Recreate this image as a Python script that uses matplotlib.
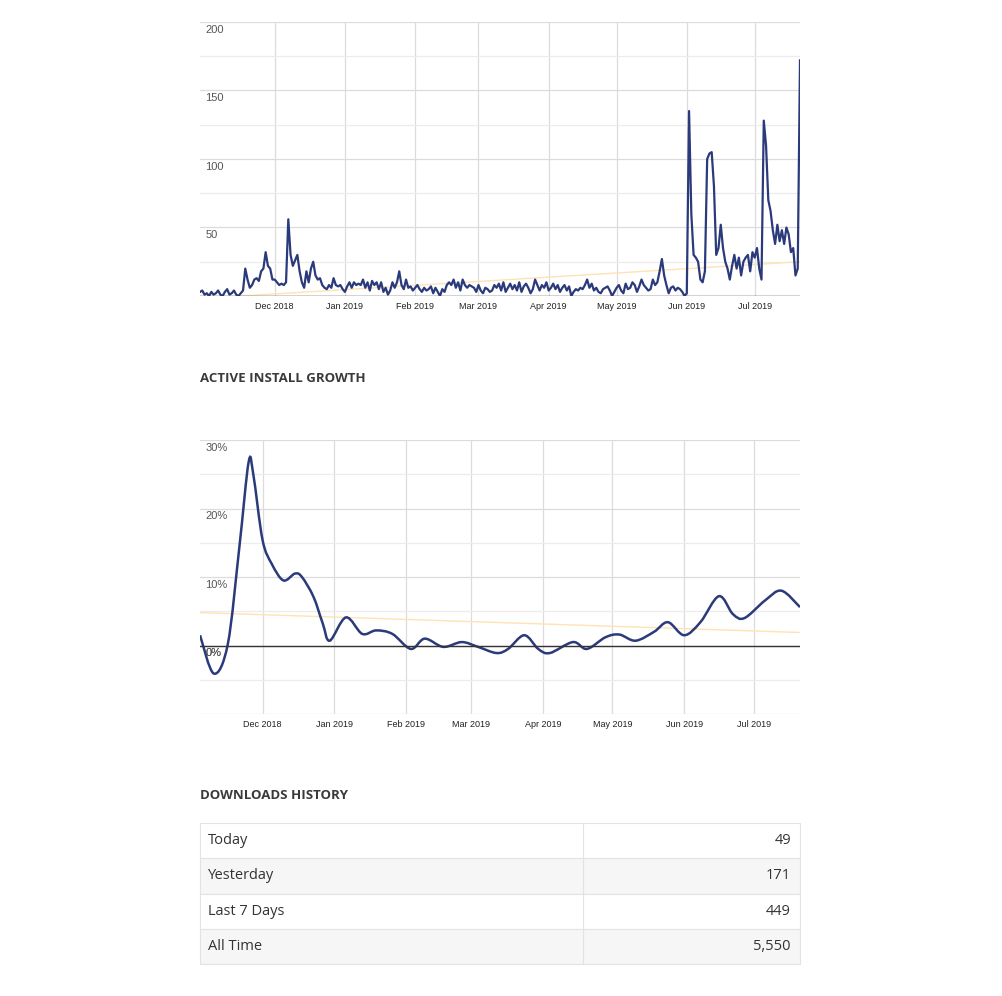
import datetime as dt
import numpy as np
import matplotlib
matplotlib.use("Agg")
import matplotlib.pyplot as plt
import matplotlib.dates as mdates
from matplotlib.path import Path
from matplotlib.patches import PathPatch, Rectangle

# ---------------- data ----------------
dl_start = dt.date(2018, 10, 29)
daily_downloads = [
    3,4,1,2,0,3,1,2,4,1,
    0,3,5,1,2,4,1,0,2,4,
    20,12,6,8,12,13,11,18,20,32,
    22,20,12,12,10,8,9,8,10,56,
    30,22,26,30,18,10,6,18,10,20,
    25,15,12,13,8,6,5,8,6,13,
    8,7,8,5,3,7,10,6,10,8,
    9,8,12,6,10,4,11,8,10,5,
    10,3,6,1,4,10,6,10,18,8,
    5,12,6,7,4,6,8,5,3,6,
    4,5,7,2,6,3,0,5,3,8,
    10,8,12,6,10,4,12,8,6,8,
    7,6,3,8,4,2,6,5,3,4,
    8,6,9,4,10,3,6,9,5,8,
    4,10,3,7,9,6,2,5,12,8,
    4,8,6,10,4,6,9,5,8,3,
    6,8,4,7,0,3,5,4,6,5,
    8,12,6,9,4,6,3,2,5,6,
    7,4,0,3,6,8,4,2,9,5,
    6,10,8,3,7,12,8,6,4,5,
    12,8,10,18,27,15,8,2,6,7,
    4,6,5,3,0,2,135,60,30,28,
    25,12,10,18,100,104,105,80,30,35,
    52,35,25,20,12,22,30,20,28,15,
    25,28,30,18,32,28,35,20,12,128,
    110,70,62,48,38,52,40,48,38,50,
    45,32,35,15,20,172,
]
dl_trend_days = [18, 265]
dl_trend_vals = [0, 25]

growth_days = [6, 12.8, 18.7, 23, 27, 29.6, 33.5, 37, 42, 47, 50.7, 55.7, 59, 62.5,
               69, 76, 82.7, 89, 97, 103.7, 111, 119, 126, 134, 139, 146, 152, 157.6,
               167, 173.6, 181, 187, 194.6, 202, 208, 215.6, 222, 230, 236.7, 241.8,
               250, 257, 265]
growth_pct = [1.5, -4.1, 0.2, 14.4, 26.8, 25, 15.4, 11.9, 9.5, 10.5, 10, 7.1, 3.2, 0.7,
              4.1, 1.7, 2.2, 1.7, -0.5, 1, -0.2, 0.5, -0.2, -1.1, -0.5, 1.5, -0.5, -1.1,
              0.5, -0.5, 1.2, 1.6, 0.7, 2, 3.4, 1.5, 3.4, 7.2, 4.6, 4,
              6.6, 8, 5.6]
growth_trend_days = [6, 265]
growth_trend_vals = [4.8, 1.9]

history_labels = ["Today", "Yesterday", "Last 7 Days", "All Time"]
history_values = ["49", "171", "449", "5,550"]

# ---------------- style ----------------
LINE = "#2b3a7a"
TREND = "#fde3b5"
GRID = "#dcdcdc"
W, H = 1002, 996
fig = plt.figure(figsize=(W/100, H/100), dpi=100)

def d(n):
    return mdates.date2num(dl_start + dt.timedelta(days=float(n)))

def setup(ax, ymin, ymax, ystep, fmt, xlim):
    ax.set_xlim(*xlim)
    ax.set_ylim(ymin, ymax)
    for s in ax.spines.values():
        s.set_visible(False)
    months = [dt.date(2018, 12, 1), dt.date(2019, 1, 1), dt.date(2019, 2, 1), dt.date(2019, 3, 1),
              dt.date(2019, 4, 1), dt.date(2019, 5, 1), dt.date(2019, 6, 1), dt.date(2019, 7, 1)]
    mn = [mdates.date2num(m) for m in months]
    ax.set_xticks(mn)
    ax.set_xticklabels([m.strftime("%b %Y") for m in months], fontsize=6.5,
                       family="Liberation Sans", color="#222")
    ax.tick_params(axis="x", length=0, pad=4)
    ax.set_yticks([])
    for m in mn:
        ax.axvline(m, color=GRID, lw=0.9, zorder=0)
    for v in np.arange(ymin, ymax + 0.01, ystep / 2):
        ax.axhline(v, color="#ececec" if (v % ystep) else GRID, lw=0.9, zorder=0)
    for v in np.arange(ymin, ymax + 0.01, ystep):
        if v <= ymin and ymin == 0:
            continue
        if v < 0:
            continue
        ax.annotate(fmt(v), (0, v), xycoords=("axes fraction", "data"),
                    xytext=(4, -2), textcoords="offset points", va="top", ha="left",
                    fontsize=8, family="Liberation Sans", color="#555")

# top chart
ax1 = fig.add_axes([200/W, 1-296/H, 600/W, 274/H])
days = np.arange(len(daily_downloads))
setup(ax1, 0, 200, 50, lambda v: f"{int(v)}", (d(0), d(len(daily_downloads) - 1)))
ax1.plot([d(x) for x in dl_trend_days], dl_trend_vals, color=TREND, lw=1, zorder=2)
ax1.plot([d(x) for x in days], daily_downloads, color=LINE, lw=1.6, zorder=3, solid_joinstyle="round")
ax1.axhline(0, color="#333", lw=1, zorder=4)

# bottom chart
ax2 = fig.add_axes([200/W, 1-714/H, 600/W, 274/H])
setup(ax2, -10, 30, 10, lambda v: f"{int(v)}%", (d(6), d(265)))
ax2.plot([d(x) for x in growth_trend_days], growth_trend_vals, color=TREND, lw=1, zorder=2)
# smooth curve through points using Catmull-Rom -> cubic Bezier path
xs = np.array([d(x) for x in growth_days]); ys = np.array(growth_pct)
P = np.column_stack([xs, ys])
verts = [P[0]]; codes = [Path.MOVETO]
for i in range(len(P) - 1):
    p0 = P[i-1] if i > 0 else P[i]
    p1, p2 = P[i], P[i+1]
    p3 = P[i+2] if i + 2 < len(P) else P[i+1]
    c1 = p1 + (p2 - p0) / 6
    c2 = p2 - (p3 - p1) / 6
    verts += [c1, c2, p2]; codes += [Path.CURVE4] * 3
ax2.add_patch(PathPatch(Path(verts, codes), fill=False, edgecolor=LINE, lw=1.8, zorder=3))
ax2.axhline(0, color="#333", lw=1, zorder=4)
ax2.annotate("0%", (0, 0), xycoords=("axes fraction", "data"), xytext=(4, -2),
             textcoords="offset points", va="top", ha="left", fontsize=8,
             family="Liberation Sans", color="#555")

# titles
for y, t in [(378, "ACTIVE INSTALL GROWTH"), (795, "DOWNLOADS HISTORY")]:
    fig.text(200/W, 1-y/H, t, fontsize=9.5, fontweight="bold", family="Open Sans",
             color="#3a3a3a", va="center", ha="left")

# table
tax = fig.add_axes([0, 0, 1, 1]); tax.set_xlim(0, W); tax.set_ylim(H, 0); tax.axis("off")
row_h = 35.3
top = 823
for i, (lab, val) in enumerate(zip(history_labels, history_values)):
    y0 = top + i*row_h
    tax.add_patch(Rectangle((200, y0), 600, row_h, facecolor="#f6f6f6" if i % 2 else "white",
                            edgecolor="#e3e3e3", lw=0.8))
    tax.plot([583, 583], [y0, y0+row_h], color="#e3e3e3", lw=0.8)
    tax.text(208, y0+row_h/2, lab, fontsize=10.5, family="Open Sans", color="#333", va="center")
    tax.text(791, y0+row_h/2, val, fontsize=10.5, family="Open Sans", color="#333",
             va="center", ha="right")

fig.savefig("out.png", dpi=100, facecolor="white")
